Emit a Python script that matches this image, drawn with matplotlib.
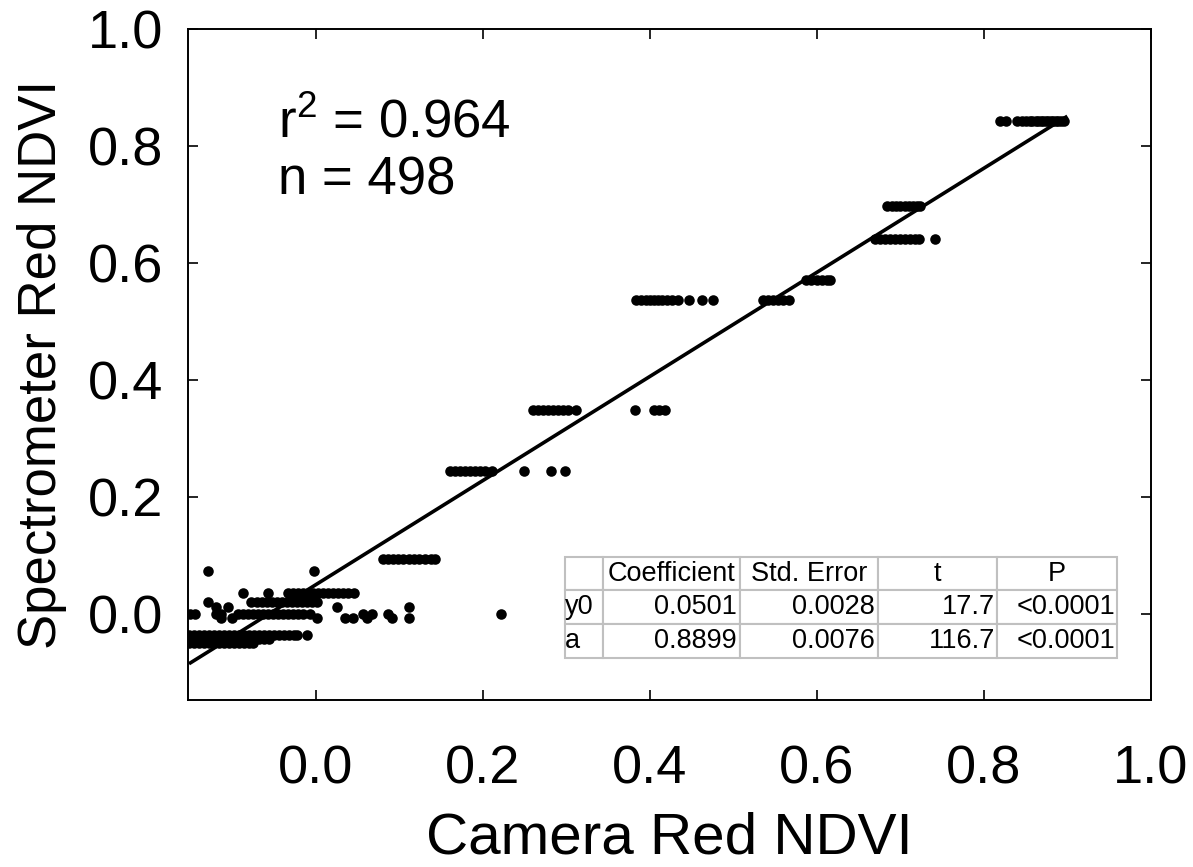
import numpy as np
import matplotlib.pyplot as plt
from matplotlib.table import Table

plt.rcParams['font.family'] = ['Liberation Sans', 'DejaVu Sans']
plt.rcParams['mathtext.fontset'] = 'custom'
plt.rcParams['mathtext.rm'] = 'Liberation Sans'
plt.rcParams['mathtext.it'] = 'Liberation Sans'

# camera NDVI values grouped by spectrometer NDVI level
lvl_843 = 0.843
cam_843 = [0.819, 0.826, 0.840, 0.845, 0.850, 0.855, 0.858, 0.862, 0.865, 0.868,
           0.871, 0.874, 0.877, 0.880, 0.883, 0.886, 0.889, 0.892, 0.896]
lvl_697 = 0.697
cam_697 = [0.684, 0.690, 0.695, 0.700, 0.705, 0.710, 0.715, 0.720, 0.723]
lvl_641 = 0.641
cam_641 = [0.669, 0.675, 0.681, 0.687, 0.693, 0.699, 0.705, 0.711, 0.717, 0.722, 0.741]
lvl_571 = 0.571
cam_571 = [0.587, 0.593, 0.600, 0.606, 0.612, 0.616]
lvl_537 = 0.537
cam_537 = [0.383, 0.389, 0.395, 0.400, 0.405, 0.410, 0.415, 0.420, 0.427, 0.434,
           0.447, 0.462, 0.475, 0.535, 0.541, 0.547, 0.553, 0.559, 0.566]
lvl_349 = 0.349
cam_349 = [0.260, 0.266, 0.272, 0.278, 0.284, 0.290, 0.296, 0.302, 0.312,
           0.382, 0.405, 0.411, 0.418]
lvl_244 = 0.244
cam_244 = [0.161, 0.167, 0.173, 0.179, 0.185, 0.191, 0.197, 0.203, 0.211,
           0.249, 0.282, 0.298]
lvl_094 = 0.094
cam_094 = [0.081, 0.087, 0.093, 0.099, 0.105, 0.111, 0.117, 0.124, 0.131, 0.138, 0.143]
lvl_073 = 0.073
cam_073 = [-0.129, -0.002]
lvl_036 = 0.036
cam_036 = [-0.087, -0.057, -0.033, -0.027, -0.021, -0.015, -0.009, -0.003, 0.003,
           0.009, 0.015, 0.021, 0.027, 0.033, 0.039, 0.046]
lvl_020 = 0.020
cam_020 = [-0.129, -0.077, -0.071, -0.065, -0.059, -0.053, -0.047, -0.041, -0.035,
           -0.029, -0.023, -0.017, -0.011, -0.005, 0.001]
lvl_012 = 0.012
cam_012 = [-0.120, -0.105, 0.025, 0.111]
lvl_000 = 0.000
cam_000 = [-0.151, -0.145, -0.120, -0.113, -0.093, -0.087, -0.081, -0.075, -0.069,
           -0.063, -0.057, -0.051, -0.045, -0.039, -0.033, -0.027, -0.021, -0.015,
           -0.007, 0.056, 0.067, 0.086, 0.222]
lvl_m006 = -0.006
cam_m006 = [-0.113, -0.100, 0.001, 0.035, 0.044, 0.061, 0.091, 0.111]
lvl_m036 = -0.036
cam_m036 = [-0.152, -0.146, -0.140, -0.134, -0.128, -0.122, -0.116, -0.110, -0.104,
            -0.098, -0.092, -0.086, -0.080, -0.074, -0.068, -0.062, -0.056, -0.050,
            -0.044, -0.038, -0.032, -0.026, -0.022, -0.010]
lvl_m043 = -0.043
cam_m043 = [-0.152, -0.146, -0.140, -0.134, -0.128, -0.122, -0.116, -0.110, -0.104,
            -0.098, -0.092, -0.086, -0.080, -0.074, -0.068, -0.062, -0.056]
lvl_m049 = -0.049
cam_m049 = [-0.152, -0.146, -0.140, -0.134, -0.128, -0.122, -0.116, -0.110, -0.104,
            -0.098, -0.092, -0.086, -0.080, -0.075]

groups = [(cam_843, lvl_843), (cam_697, lvl_697), (cam_641, lvl_641), (cam_571, lvl_571),
          (cam_537, lvl_537), (cam_349, lvl_349), (cam_244, lvl_244), (cam_094, lvl_094),
          (cam_073, lvl_073), (cam_036, lvl_036), (cam_020, lvl_020), (cam_012, lvl_012),
          (cam_000, lvl_000), (cam_m006, lvl_m006), (cam_m036, lvl_m036),
          (cam_m043, lvl_m043), (cam_m049, lvl_m049)]

# regression results
y0, a = 0.0501, 0.8899
r2, n = 0.964, 498
tbl_cols = ["", "Coefficient", "Std. Error", "t", "P"]
tbl_rows = [["y0", "0.0501", "0.0028", "17.7", "<0.0001"],
            ["a", "0.8899", "0.0076", "116.7", "<0.0001"]]

ticks = [0.0, 0.2, 0.4, 0.6, 0.8, 1.0]

fig = plt.figure(figsize=(11.93, 8.67), dpi=100)
ax = fig.add_axes([0.1576, 0.1926, 0.8072, 0.774])

x = np.concatenate([np.asarray(g[0]) for g in groups])
y = np.concatenate([np.full(len(g[0]), g[1]) for g in groups])
ax.plot(x, y, 'o', color='black', ms=7.6, mew=0)

xl = np.array([-0.15, 0.898])
ax.plot(xl, y0 + a * xl, color='black', lw=2.6)

ax.set_xlim(-0.153, 1.0)
ax.set_ylim(-0.147, 1.0)
ax.set_xticks(ticks)
ax.set_yticks(ticks)
ax.set_xticklabels([f"{t:.1f}" for t in ticks])
ax.set_yticklabels([f"{t:.1f}" for t in ticks])
for s in ax.spines.values():
    s.set_linewidth(1.4)
ax.tick_params(direction='in', length=7, width=1.2, top=True, right=True, labelsize=39)
ax.tick_params(axis='x', pad=32)
ax.tick_params(axis='y', pad=18)

ax.set_xlabel("Camera Red NDVI", fontsize=42, labelpad=12)
ax.set_ylabel("Spectrometer Red NDVI", fontsize=38, labelpad=15)

ax.text(0.093, 0.838, f"r$^2$ = {r2}", transform=ax.transAxes, fontsize=38, va='baseline')
ax.text(0.093, 0.754, f"n = {n}", transform=ax.transAxes, fontsize=38, va='baseline')

# coefficient table
widths = np.array([38, 137, 138, 119, 120], dtype=float)
widths /= widths.sum()
tb = Table(ax, bbox=[0.391, 0.0626, 0.574, 0.151])
for r, row in enumerate([tbl_cols] + tbl_rows):
    for c, txt in enumerate(row):
        if r == 0:
            loc = 'center'
        elif c == 0:
            loc = 'left'
        else:
            loc = 'right'
        cell = tb.add_cell(r, c, width=widths[c], height=1 / 3, text=txt, loc=loc,
                           edgecolor='#c0c0c0', facecolor='white')
        cell.PAD = 0.02
        cell.set_linewidth(1.5)
tb.auto_set_font_size(False)
tb.set_fontsize(19.5)
ax.add_table(tb)

plt.savefig("out.png", dpi=100)
